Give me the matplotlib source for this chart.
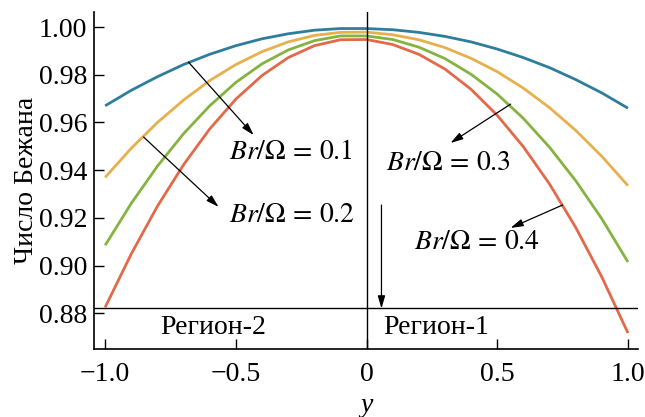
import matplotlib
matplotlib.use("Agg")
import matplotlib.pyplot as plt

plt.rcParams['font.family'] = ['Liberation Serif', 'DejaVu Serif']
plt.rcParams['mathtext.fontset'] = 'stix'

x = [-1.0, -0.9, -0.8, -0.7, -0.6, -0.5, -0.4, -0.3, -0.2, -0.1, 0.0,
     0.1, 0.2, 0.3, 0.4, 0.5, 0.6, 0.7, 0.8, 0.9, 1.0]
be_01 = [0.9670, 0.9735, 0.9792, 0.9843, 0.9886, 0.9922, 0.9951, 0.9972, 0.9987, 0.9994, 0.9994,
         0.9989, 0.9978, 0.9961, 0.9938, 0.9908, 0.9872, 0.9830, 0.9780, 0.9724, 0.9660]
be_02 = [0.9370, 0.9492, 0.9600, 0.9694, 0.9776, 0.9843, 0.9897, 0.9938, 0.9965, 0.9978, 0.9979,
         0.9968, 0.9947, 0.9914, 0.9869, 0.9813, 0.9744, 0.9662, 0.9567, 0.9458, 0.9335]
be_03 = [0.9085, 0.9261, 0.9417, 0.9553, 0.9670, 0.9768, 0.9846, 0.9904, 0.9943, 0.9963, 0.9963,
         0.9948, 0.9916, 0.9868, 0.9802, 0.9719, 0.9617, 0.9496, 0.9356, 0.9196, 0.9015]
be_04 = [0.8825, 0.9049, 0.9249, 0.9423, 0.9573, 0.9698, 0.9797, 0.9872, 0.9922, 0.9947, 0.9948,
         0.9927, 0.9886, 0.9824, 0.9739, 0.9630, 0.9498, 0.9342, 0.9160, 0.8952, 0.8717]

series = [be_01, be_02, be_03, be_04]
colors = ['#2f7d9d', '#e7b04d', '#84b340', '#e2694a']
labels = [r'$Br/\Omega\,=\,0.1$', r'$Br/\Omega\,=\,0.2$', r'$Br/\Omega\,=\,0.3$', r'$Br/\Omega\,=\,0.4$']

xticks = [-1.0, -0.5, 0.0, 0.5, 1.0]
xticklabels = ['\u22121.0', '\u22120.5', '0', '0.5', '1.0']
yticks = [0.88, 0.90, 0.92, 0.94, 0.96, 0.98, 1.00]
yticklabels = ['0.88', '0.90', '0.92', '0.94', '0.96', '0.98', '1.00']
region_level = 0.882

fig = plt.figure(figsize=(6.45, 4.17), dpi=100)
ax = fig.add_axes([0.146, 0.163, 0.843, 0.808])

for s, c in zip(series, colors):
    ax.plot(x, s, color=c, lw=2.0, solid_capstyle='butt', solid_joinstyle='round')

ax.set_xlim(-1.042, 1.038)
ax.set_ylim(0.865, 1.0063)
ax.axhline(region_level, color='black', lw=1.0)
ax.axvline(0.0, color='black', lw=1.0)

ax.spines['top'].set_visible(False)
ax.spines['right'].set_visible(False)
for sp in ['left', 'bottom']:
    ax.spines[sp].set_linewidth(1.2)

ax.set_xticks(xticks)
ax.set_xticklabels(xticklabels)
ax.set_yticks(yticks)
ax.set_yticklabels(yticklabels)
ax.tick_params(axis='both', direction='in', length=7, width=1.0, labelsize=20)
ax.tick_params(axis='x', pad=9)
ax.tick_params(axis='y', pad=5)

ax.set_ylabel('Число Бежана', fontsize=20, labelpad=0)
ax.set_xlabel('y', fontsize=20, fontstyle='italic', labelpad=5)

ap = dict(arrowstyle='-|>,head_length=0.75,head_width=0.22', color='black', lw=0.9, shrinkA=0, shrinkB=0)

ax.annotate('', xy=(-0.432, 0.9547), xytext=(-0.681, 0.9853), arrowprops=ap)
ax.text(-0.528, 0.9476, labels[0], fontsize=20, ha='left', va='center')

ax.annotate('', xy=(-0.566, 0.9246), xytext=(-0.853, 0.9539), arrowprops=ap)
ax.text(-0.528, 0.9212, labels[1], fontsize=20, ha='left', va='center')

ax.annotate('', xy=(0.321, 0.9514), xytext=(0.551, 0.9677), arrowprops=ap)
ax.text(0.073, 0.9430, labels[2], fontsize=20, ha='left', va='center')

ax.annotate('', xy=(0.551, 0.9158), xytext=(0.750, 0.9254), arrowprops=ap)
ax.text(0.180, 0.9095, labels[3], fontsize=20, ha='left', va='center')

ax.annotate('', xy=(0.057, region_level), xytext=(0.057, 0.9254), arrowprops=ap)

ax.text(-0.585, 0.8740, 'Регион-2', fontsize=20, ha='center', va='center')
ax.text(0.268, 0.8740, 'Регион-1', fontsize=20, ha='center', va='center')

fig.savefig('out.png', dpi=100)
